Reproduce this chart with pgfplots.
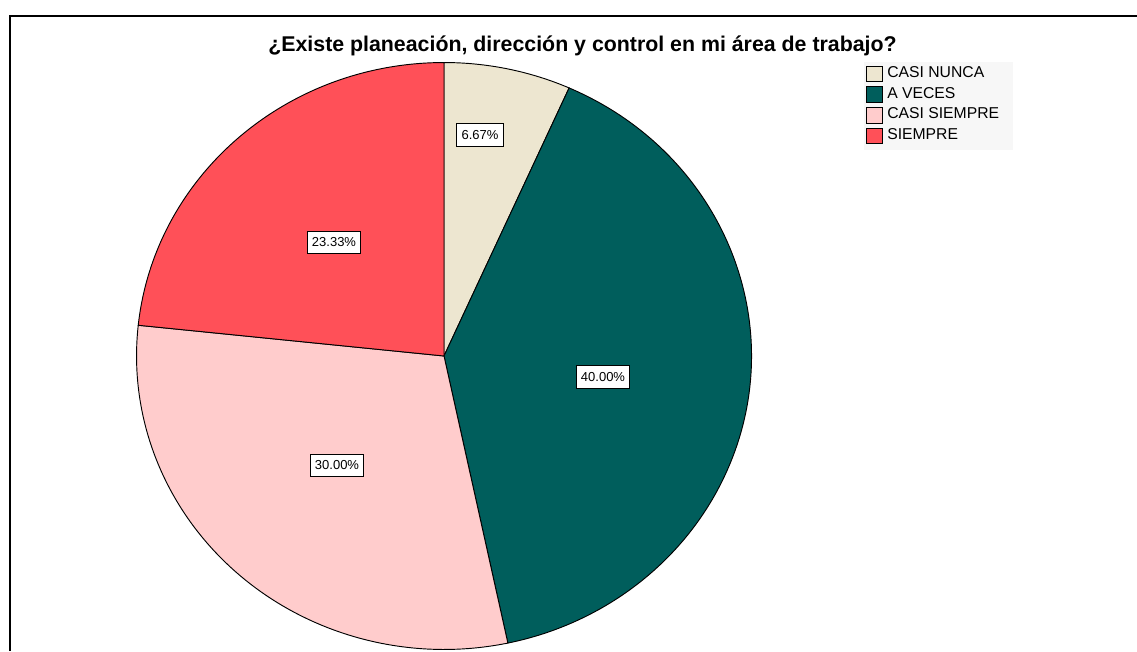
\documentclass[border=0pt]{standalone}
\usepackage{fontspec}
\setmainfont{Liberation Sans}
\usepackage{pgfplots}
\usepackage{pgfplotstable}
\pgfplotsset{compat=1.18}

\definecolor{pie0}{RGB}{237,230,208}
\definecolor{pie1}{RGB}{0,94,92}
\definecolor{pie2}{RGB}{255,204,204}
\definecolor{pie3}{RGB}{255,80,88}
\definecolor{legbg}{RGB}{247,247,247}

% value = percent, lx/ly = label box centre (1 unit = 1 px of the original)
\pgfplotstableread[col sep=comma]{
cat,value,lx,ly
CASI NUNCA,6.67,480,516
A VECES,40.00,603,274
CASI SIEMPRE,30.00,337,185.5
SIEMPRE,23.33,334,408.5
}\piedata

% slice angles, clockwise from 12 o'clock
\def\cum{0}%
\foreach \i in {0,...,3}{%
  \pgfplotstablegetelem{\i}{value}\of\piedata
  \xdef\pieLtmp{\pgfplotsretval}%
  \expandafter\xdef\csname pieL\i\endcsname{\pgfplotsretval}%
  \pgfmathsetmacro\pS{90-3.6*\cum}%
  \pgfmathsetmacro\pE{90-3.6*(\cum+\pieLtmp)}%
  \expandafter\xdef\csname pieS\i\endcsname{\pS}%
  \expandafter\xdef\csname pieE\i\endcsname{\pE}%
  \pgfmathsetmacro\pC{\cum+\pieLtmp}%
  \xdef\cum{\pC}%
  \pgfplotstablegetelem{\i}{lx}\of\piedata
  \expandafter\xdef\csname pieX\i\endcsname{\pgfplotsretval}%
  \pgfplotstablegetelem{\i}{ly}\of\piedata
  \expandafter\xdef\csname pieY\i\endcsname{\pgfplotsretval}%
  \pgfplotstablegetelem{\i}{cat}\of\piedata
  \expandafter\xdef\csname pieN\i\endcsname{\pgfplotsretval}%
  \pgfmathsetmacro\pR{577-20.7*\i}%
  \expandafter\xdef\csname pieR\i\endcsname{\pR}%
}%

\begin{document}
\begin{tikzpicture}
\useasboundingbox (0,0) rectangle (852.75pt,488.25pt);
\begin{axis}[
    at={(0,0)}, anchor=south west,
    x=0.75pt, y=0.75pt,
    xmin=0, xmax=1137, ymin=0, ymax=651,
    hide axis, clip=false,
]
% frame
\draw[line width=1.5pt] (axis cs:10.3,0) -- (axis cs:10.3,635) -- (axis cs:1137,635);

% legend background
\fill[legbg] (axis cs:864,501) rectangle (axis cs:1013,588.5);

% wedges
\pgfplotsinvokeforeach{0,...,3}{%
  \edef\temp{\noexpand\filldraw[fill=pie#1, draw=black, line width=0.7pt]
    (axis cs:444,295) -- ++(\csname pieS#1\endcsname:230.6pt and 220.1pt)
    arc[start angle=\csname pieS#1\endcsname, end angle=\csname pieE#1\endcsname,
        x radius=230.6pt, y radius=220.1pt] -- cycle;}%
  \temp
}

% value labels
\pgfplotsinvokeforeach{0,...,3}{%
  \edef\temp{\noexpand\node[draw=black, fill=white, line width=0.7pt,
      inner xsep=3.6pt, inner ysep=0pt, minimum height=17pt,
      font=\noexpand\fontsize{9.75}{11}\noexpand\selectfont]
    at (axis cs:\csname pieX#1\endcsname,\csname pieY#1\endcsname)
    {\csname pieL#1\endcsname\noexpand\%};}%
  \temp
}

% legend entries
\pgfplotsinvokeforeach{0,...,3}{%
  \edef\temp{\noexpand\filldraw[fill=pie#1, draw=black, line width=0.7pt]
    (axis cs:866.5,\csname pieR#1\endcsname) ++(0pt,-5.8pt) rectangle ++(11.6pt,11.6pt);
    \noexpand\node[anchor=base west, inner sep=0pt,
      font=\noexpand\fontsize{11.8}{13}\noexpand\selectfont]
    at (axis cs:887,\csname pieR#1\endcsname) [yshift=-2.6pt] {\csname pieN#1\endcsname};}%
  \temp
}

% title
\node[anchor=base, font=\bfseries\fontsize{16}{19}\selectfont]
  at (axis cs:582.5,599) {¿Existe planeación, dirección y control en mi área de trabajo?};
\end{axis}
\end{tikzpicture}
\end{document}
